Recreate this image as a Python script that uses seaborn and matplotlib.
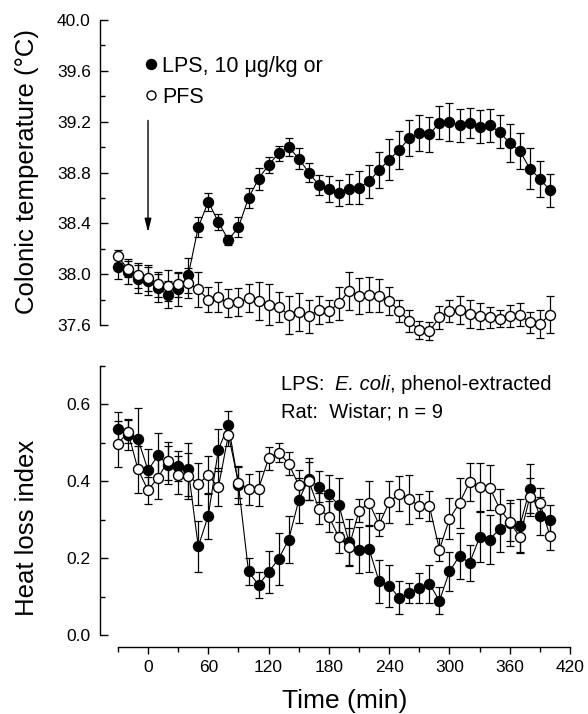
import numpy as np
import pandas as pd
import matplotlib
matplotlib.use("Agg")
import matplotlib.pyplot as plt
import seaborn as sns

# ---------------- data ----------------
time_min = [-30, -20, -10, 0, 10, 20, 30, 40, 50, 60, 70, 80, 90, 100, 110, 120,
            130, 140, 150, 160, 170, 180, 190, 200, 210, 220, 230, 240, 250, 260,
            270, 280, 290, 300, 310, 320, 330, 340, 350, 360, 370, 380, 390, 400]

temp_lps = [38.06, 38.02, 37.96, 37.95, 37.89, 37.84, 37.88, 37.99, 38.37, 38.57,
            38.41, 38.27, 38.37, 38.60, 38.75, 38.86, 38.95, 39.00, 38.91, 38.80,
            38.70, 38.67, 38.64, 38.67, 38.68, 38.73, 38.82, 38.90, 38.98, 39.07,
            39.11, 39.10, 39.19, 39.20, 39.17, 39.19, 39.16, 39.17, 39.12, 39.03,
            38.97, 38.83, 38.75, 38.66]
temp_lps_err = [0.10, 0.10, 0.11, 0.11, 0.11, 0.11, 0.13, 0.14, 0.08, 0.07,
                0.06, 0.04, 0.08, 0.08, 0.085, 0.065, 0.06, 0.07, 0.08, 0.075,
                0.08, 0.10, 0.10, 0.12, 0.13, 0.13, 0.14, 0.16, 0.15, 0.14,
                0.14, 0.14, 0.13, 0.15, 0.13, 0.12, 0.13, 0.13, 0.13, 0.15,
                0.14, 0.16, 0.14, 0.13]

temp_pfs = [38.14, 38.04, 37.99, 37.97, 37.92, 37.91, 37.92, 37.93, 37.88, 37.80,
            37.82, 37.77, 37.78, 37.81, 37.79, 37.76, 37.74, 37.68, 37.70, 37.67,
            37.72, 37.71, 37.77, 37.87, 37.83, 37.84, 37.83, 37.79, 37.71, 37.63,
            37.56, 37.55, 37.66, 37.71, 37.72, 37.69, 37.67, 37.66, 37.65, 37.67,
            37.68, 37.62, 37.61, 37.68]
temp_pfs_err = [0.05, 0.06, 0.10, 0.10, 0.10, 0.12, 0.10, 0.12, 0.14, 0.10,
                0.12, 0.11, 0.11, 0.11, 0.15, 0.16, 0.12, 0.15, 0.15, 0.13,
                0.11, 0.085, 0.13, 0.15, 0.14, 0.14, 0.13, 0.11, 0.09, 0.085,
                0.07, 0.07, 0.09, 0.085, 0.11, 0.11, 0.10, 0.085, 0.065, 0.085,
                0.09, 0.08, 0.11, 0.145]

hli_lps = [0.535, 0.52, 0.509, 0.428, 0.467, 0.441, 0.439, 0.43, 0.23, 0.31,
           0.481, 0.546, 0.39, 0.165, 0.13, 0.163, 0.198, 0.248, 0.35, 0.406,
           0.385, 0.365, 0.337, 0.241, 0.22, 0.223, 0.139, 0.128, 0.097, 0.109,
           0.122, 0.133, 0.089, 0.165, 0.206, 0.187, 0.254, 0.248, 0.276, 0.291,
           0.283, 0.38, 0.309, 0.298]
hli_lps_err = [0.045, 0.04, 0.08, 0.055, 0.057, 0.05, 0.04, 0.07, 0.067, 0.06,
               0.054, 0.035, 0.05, 0.035, 0.033, 0.055, 0.067, 0.06, 0.058, 0.055,
               0.04, 0.05, 0.07, 0.06, 0.06, 0.06, 0.056, 0.054, 0.043, 0.027,
               0.04, 0.05, 0.035, 0.05, 0.06, 0.047, 0.065, 0.063, 0.06, 0.06,
               0.07, 0.063, 0.05, 0.04]

hli_pfs = [0.496, 0.528, 0.43, 0.376, 0.409, 0.452, 0.415, 0.413, 0.393, 0.415,
           0.384, 0.52, 0.396, 0.378, 0.38, 0.459, 0.474, 0.445, 0.389, 0.40,
           0.328, 0.307, 0.254, 0.228, 0.323, 0.343, 0.287, 0.345, 0.367, 0.352,
           0.335, 0.335, 0.222, 0.302, 0.343, 0.397, 0.384, 0.383, 0.328, 0.293,
           0.255, 0.359, 0.343, 0.257]
hli_pfs_err = [0.06, 0.03, 0.06, 0.035, 0.057, 0.05, 0.05, 0.06, 0.055, 0.05,
               0.05, 0.03, 0.04, 0.04, 0.045, 0.03, 0.025, 0.03, 0.04, 0.05,
               0.04, 0.04, 0.04, 0.05, 0.03, 0.057, 0.03, 0.055, 0.046, 0.063,
               0.03, 0.04, 0.03, 0.053, 0.065, 0.05, 0.063, 0.058, 0.05, 0.05,
               0.04, 0.05, 0.04, 0.037]

temp_ticks = [37.6, 38.0, 38.4, 38.8, 39.2, 39.6, 40.0]
hli_ticks = [0.0, 0.2, 0.4, 0.6]
time_ticks = [0, 60, 120, 180, 240, 300, 360, 420]

# ---------------- style ----------------
sns.set_style("ticks")
plt.rcParams["font.family"] = ["Liberation Sans", "DejaVu Sans"]
plt.rcParams["axes.linewidth"] = 1.0
for k in ["text.color", "axes.labelcolor", "xtick.color", "ytick.color",
          "axes.edgecolor", "xtick.labelcolor", "ytick.labelcolor"]:
    plt.rcParams[k] = "black"

fig = plt.figure(figsize=(5.88, 7.14), dpi=100)
ax1 = fig.add_axes([0.1697, 0.5181, 0.7998, 0.4539])
ax2 = fig.add_axes([0.1697, 0.09447, 0.7998, 0.3936])

df_temp = pd.DataFrame({"time": time_min, "lps": temp_lps, "lps_err": temp_lps_err,
                        "pfs": temp_pfs, "pfs_err": temp_pfs_err})
df_hli = pd.DataFrame({"time": time_min, "lps": hli_lps, "lps_err": hli_lps_err,
                       "pfs": hli_pfs, "pfs_err": hli_pfs_err})

MS = 7.2
ekw = dict(fmt="none", ecolor="black", elinewidth=0.9, capsize=3, capthick=0.9)


def draw(ax, df):
    ax.errorbar(df["time"], df["lps"], yerr=df["lps_err"], zorder=2, clip_on=False, **ekw)
    sns.lineplot(data=df, x="time", y="lps", ax=ax, color="black", lw=0.8,
                 marker="o", ms=MS, mfc="black", mec="black", mew=1.0,
                 zorder=3, clip_on=False)
    ax.errorbar(df["time"], df["pfs"], yerr=df["pfs_err"], zorder=4, clip_on=False, **ekw)
    sns.lineplot(data=df, x="time", y="pfs", ax=ax, color="black", lw=0.8,
                 marker="o", ms=MS, mfc="white", mec="black", mew=1.0,
                 zorder=5, clip_on=False)
    ax.set_xlabel("")
    ax.set_ylabel("")


draw(ax1, df_temp)
draw(ax2, df_hli)

# ---------- top axes ----------
ax1.set_xlim(-48, 420)
ax1.set_ylim(37.45, 40.0)
for s in ["top", "right", "bottom"]:
    ax1.spines[s].set_visible(False)
ax1.spines["left"].set_bounds(37.6, 40.0)
ax1.set_yticks(temp_ticks)
ax1.set_yticklabels([f"{v:.1f}" for v in temp_ticks])
ax1.set_yticks(np.arange(37.8, 40.0, 0.4), minor=True)
ax1.tick_params(axis="y", which="major", direction="in", length=6, width=1,
                labelsize=12.5, pad=6.5)
ax1.tick_params(axis="y", which="minor", direction="in", length=3.5, width=1)
ax1.tick_params(axis="x", which="both", bottom=False, labelbottom=False)

# legend-like labels
ax1.plot([3], [39.654], "o", ms=MS, mfc="black", mec="black", clip_on=False)
ax1.plot([3], [39.41], "o", ms=MS * 0.9, mfc="white", mec="black", mew=1.0, clip_on=False)
ax1.text(14, 39.594, "LPS, 10 \u03bcg/kg or", fontsize=15.5, va="baseline", ha="left")
ax1.text(14, 39.350, "PFS", fontsize=15.5, va="baseline", ha="left")

# injection arrow
ax1.annotate("", xy=(0, 38.33), xytext=(0, 39.21),
             arrowprops=dict(arrowstyle="-|>,head_length=0.8,head_width=0.2",
                             color="black", lw=1.0, shrinkA=0, shrinkB=0))

# ---------- bottom axes ----------
ax2.set_xlim(-48, 420)
ax2.set_ylim(-0.03, 0.70)
for s in ["top", "right"]:
    ax2.spines[s].set_visible(False)
ax2.spines["left"].set_bounds(0.0, 0.7)
ax2.spines["bottom"].set_bounds(-30, 420)
ax2.set_yticks(hli_ticks)
ax2.set_yticklabels([f"{v:.1f}" for v in hli_ticks])
ax2.set_yticks([0.1, 0.3, 0.5, 0.7], minor=True)
ax2.tick_params(axis="y", which="major", direction="in", length=6, width=1,
                labelsize=12.5, pad=6.5)
ax2.tick_params(axis="y", which="minor", direction="in", length=3.5, width=1)
ax2.set_xticks(time_ticks)
ax2.set_xticklabels([str(v) for v in time_ticks])
ax2.set_xticks([-30, 30, 90, 150, 210, 270, 330, 390], minor=True)
ax2.tick_params(axis="x", which="major", direction="out", length=5, width=1,
                labelsize=12.5, pad=4.5)
ax2.tick_params(axis="x", which="minor", direction="out", length=3.5, width=1)

FS_NOTE = 14.5
t1 = ax2.text(132, 0.636, "LPS:  ", fontsize=FS_NOTE, va="baseline", ha="left")
t2 = ax2.annotate("E. coli", xy=(1, 0), xycoords=t1, fontsize=FS_NOTE, va="bottom",
                  ha="left", style="italic")
ax2.annotate(", phenol-extracted", xy=(1, 0), xycoords=t2, fontsize=FS_NOTE,
             va="bottom", ha="left")
ax2.text(132, 0.566, "Rat:  Wistar; n = 9", fontsize=FS_NOTE, va="baseline", ha="left")

# axis titles
fig.text(345 / 588, 1 - 701 / 714, "Time (min)", fontsize=19, ha="center", va="center")
fig.text(27 / 588, 1 - 172 / 714, "Colonic temperature (\u00b0C)", fontsize=18.5,
         rotation=90, ha="center", va="center")
fig.text(27 / 588, 1 - 528 / 714, "Heat loss index", fontsize=18.5,
         rotation=90, ha="center", va="center")

fig.savefig("out.png", dpi=100)
